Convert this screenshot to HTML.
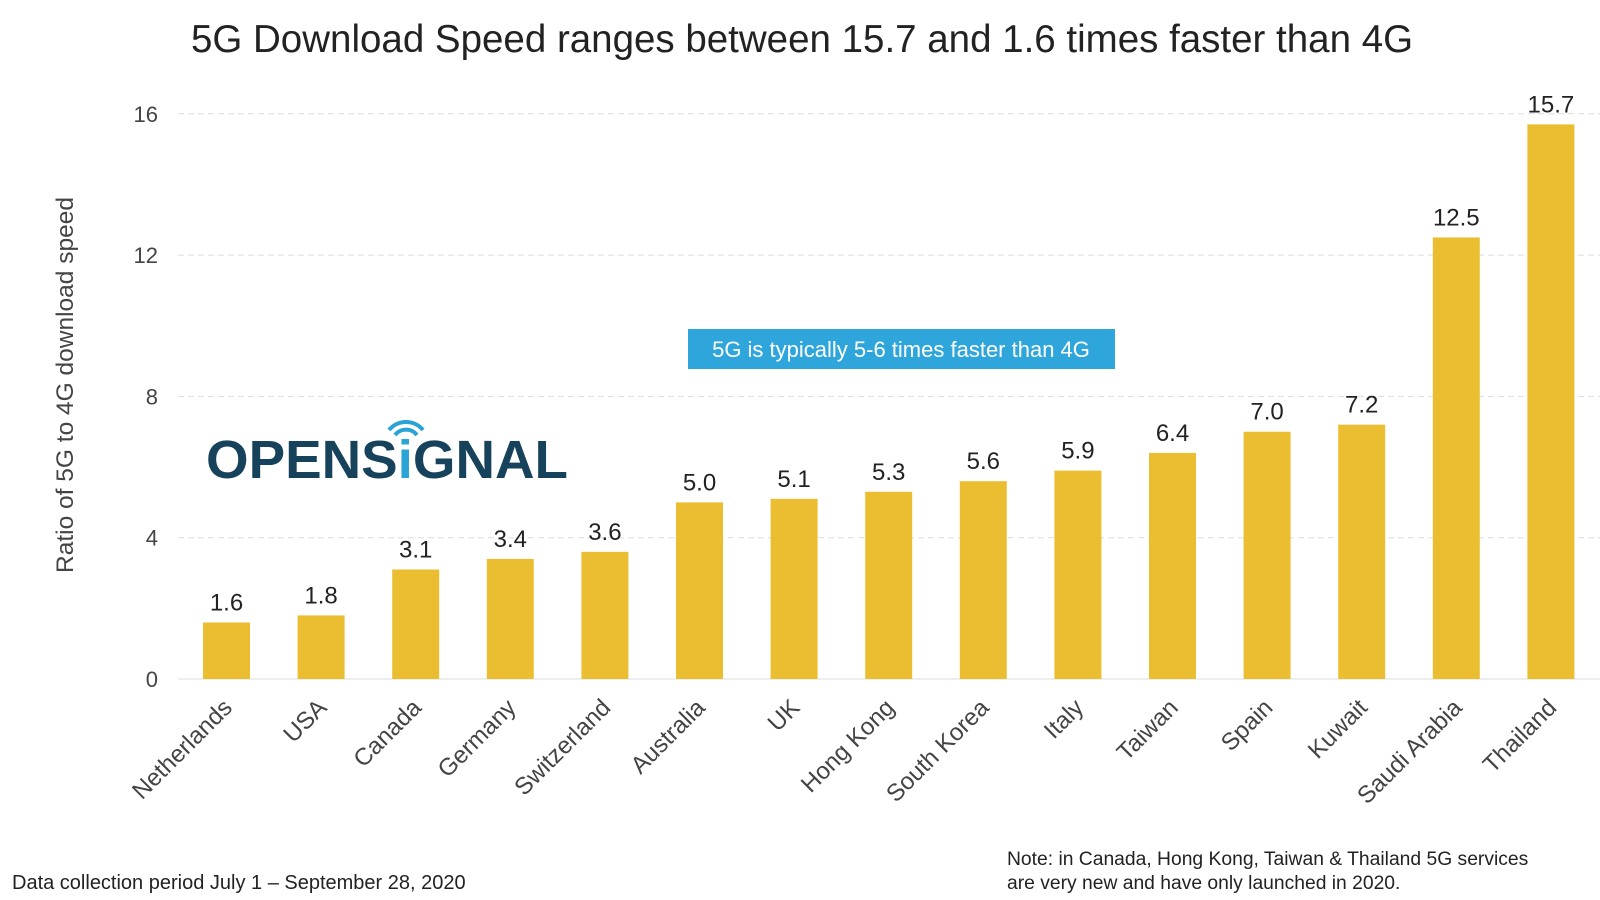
<!DOCTYPE html>
<html><head><meta charset="utf-8"><style>
body{margin:0;background:#fff;}
svg{display:block;font-family:"Liberation Sans",sans-serif;}
</style></head><body>
<svg id="chart" width="1600" height="900" viewBox="0 0 1600 900">
<text x="802" y="52" text-anchor="middle" font-size="38.5" fill="#222">5G Download Speed ranges between 15.7 and 1.6 times faster than 4G</text>
<text transform="translate(73,385) rotate(-90)" text-anchor="middle" font-size="24.5" fill="#444">Ratio of 5G to 4G download speed</text>
<g id="grid"></g><g id="bars"></g>
<g>
<text x="206" y="478" font-size="54" font-weight="bold" fill="#16425b" textLength="362" lengthAdjust="spacingAndGlyphs">OPENS<tspan fill="#2aa3d6">i</tspan>GNAL</text>
<path d="M395 435 a14 14 0 0 1 22 0 M389 430 a22 22 0 0 1 34 0" stroke="#2aa3d6" stroke-width="4" fill="none"/>
</g>
<rect x="688" y="329" width="427" height="40" fill="#2ea6dc"/>
<text x="901" y="357" text-anchor="middle" font-size="22" fill="#fff">5G is typically 5-6 times faster than 4G</text>
<text x="12" y="889" font-size="20" fill="#222">Data collection period July 1 – September 28, 2020</text>
<text x="1007" y="865" font-size="19.3" fill="#222">Note: in Canada, Hong Kong, Taiwan &amp; Thailand 5G services</text>
<text x="1007" y="889" font-size="19.3" fill="#222">are very new and have only launched in 2020.</text>
</svg>
<script>
const categories=["Netherlands","USA","Canada","Germany","Switzerland","Australia","UK","Hong Kong","South Korea","Italy","Taiwan","Spain","Kuwait","Saudi Arabia","Thailand"];
const values=[1.6,1.8,3.1,3.4,3.6,5.0,5.1,5.3,5.6,5.9,6.4,7.0,7.2,12.5,15.7];
const valueLabels=["1.6","1.8","3.1","3.4","3.6","5.0","5.1","5.3","5.6","5.9","6.4","7.0","7.2","12.5","15.7"];
const yTicks=[0,4,8,12,16];
const NS="http://www.w3.org/2000/svg";
const y0=679,pxPerUnit=141.3/4;
function y(v){return y0-v*pxPerUnit;}
function x(i){return 226.5+i*94.6;}
const grid=document.getElementById('grid'),bars=document.getElementById('bars');
function mk(tag,attrs,parent){const e=document.createElementNS(NS,tag);for(const k in attrs)e.setAttribute(k,attrs[k]);parent.appendChild(e);return e;}
yTicks.forEach(t=>{
  const l=mk('line',{x1:178,x2:1600,y1:y(t),y2:y(t),stroke:'#ddd','stroke-dasharray':t===0?'':'6 4','stroke-width':1},grid);
  
  
  const tx=mk('text',{x:158,y:y(t)+8,'text-anchor':'end','font-size':22,fill:'#444'},grid);
  tx.textContent=t;
  
  
});
values.forEach((v,i)=>{
  const cx=x(i),w=47;
  const r=mk('rect',{x:cx-w/2,y:y(v),width:w,height:y0-y(v),fill:'#ebbe32'},bars);
  
  
  const vl=mk('text',{x:cx,y:y(v)-12,'text-anchor':'middle','font-size':24,fill:'#222'},bars);
  vl.textContent=valueLabels[i];
  
  
  const cl=mk('text',{transform:`translate(${cx+7},${y0+30}) rotate(-45)`,'text-anchor':'end','font-size':24,fill:'#444'},bars);
  cl.textContent=categories[i];
  
  
});
</script>
</body></html>
